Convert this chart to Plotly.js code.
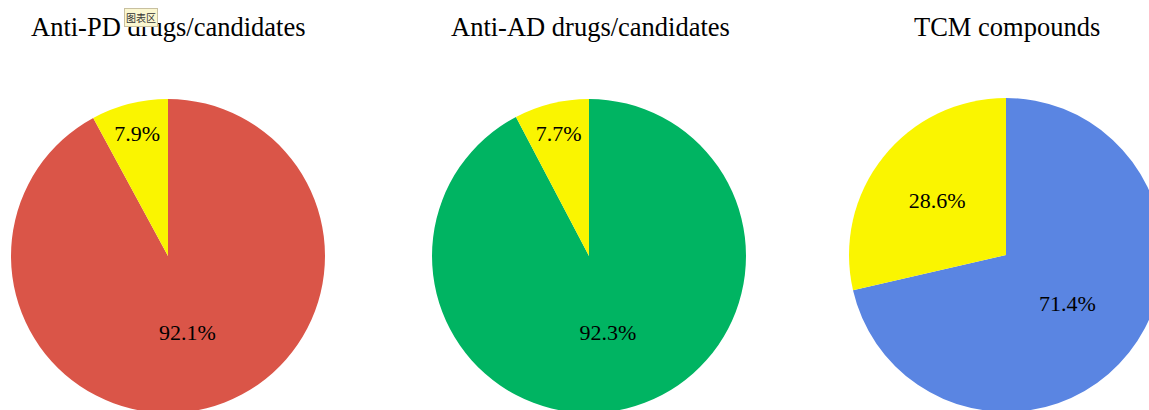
<!DOCTYPE html>
<html>
<head>
<meta charset="utf-8">
<script src="https://cdn.plot.ly/plotly-3.0.1.min.js"></script>
<style>
html,body{margin:0;padding:0;overflow:hidden;background:#fff;}
#chart{width:1170px;height:420px;}
</style>
</head>
<body>
<div id="chart"></div>
<script>
const titles = ["Anti-PD drugs/candidates", "Anti-AD drugs/candidates", "TCM compounds"];
const sliceLabels = ["Main", "Other"];
const pdValues = [92.1, 7.9];
const adValues = [92.3, 7.7];
const tcmValues = [71.4, 28.6];
const pdColors = ["#DA5548", "#FAF500"];
const adColors = ["#00B462", "#FAF500"];
const tcmColors = ["#5A85E2", "#FAF500"];

const W = 1170, H = 420;
function dom(cx, cy, r) {
  return {x: [(cx - r) / W, (cx + r) / W], y: [(H - (cy + r)) / H, (H - (cy - r)) / H]};
}
function pie(values, colors, d) {
  return {
    type: "pie", values: values, labels: sliceLabels, sort: false,
    direction: "clockwise", rotation: 0,
    marker: {colors: colors, line: {width: 0}},
    textinfo: "percent", texttemplate: "%{value:.1f}%", textposition: "inside",
    insidetextorientation: "horizontal",
    textfont: {family: "Liberation Serif", size: 22, color: "#000"},
    hoverinfo: "none", showlegend: false, domain: d
  };
}
const data = [
  pie(pdValues, pdColors, dom(168, 256, 157)),
  pie(adValues, adColors, dom(589, 256, 157)),
  pie(tcmValues, tcmColors, dom(1006, 255, 157))
];
const titleX = [169, 590, 1007];
const annotations = titles.map((t, i) => ({
  text: t, x: titleX[i] / W, y: 1 - 27 / H, xref: "paper", yref: "paper",
  xanchor: "center", yanchor: "middle", showarrow: false,
  font: {family: "Liberation Serif", size: 26.5, color: "#000"}
}));
annotations.push({
  text: "图表区", x: 141 / W, y: 1 - 18 / H, xref: "paper", yref: "paper",
  xanchor: "center", yanchor: "middle", showarrow: false,
  font: {family: "Noto Sans CJK SC", size: 10, color: "#333"},
  bgcolor: "#FBF7D0", bordercolor: "#C8C0A0", borderwidth: 1, borderpad: 1
});
Plotly.newPlot("chart", data, {
  width: W, height: H, margin: {l: 0, r: 0, t: 0, b: 0},
  paper_bgcolor: "#fff", annotations: annotations
}, {displayModeBar: false, staticPlot: true});
</script>
</body>
</html>
